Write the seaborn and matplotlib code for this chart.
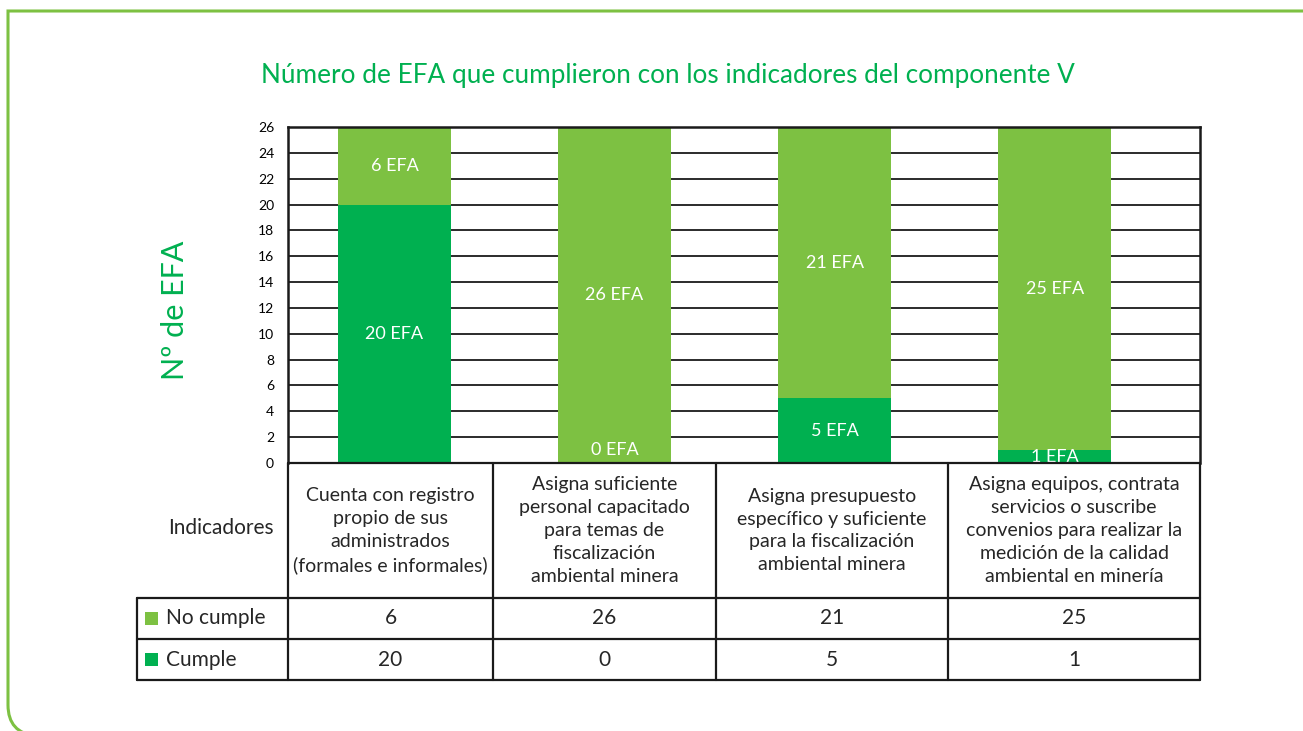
import matplotlib
matplotlib.use("Agg")
import matplotlib.pyplot as plt
import seaborn as sns
import pandas as pd
from matplotlib.lines import Line2D
from matplotlib.patches import PathPatch, Rectangle
from matplotlib.path import Path

# Data
categories = [
    "Cuenta con registro\npropio de sus\nadministrados\n(formales e informales)",
    "Asigna suficiente\npersonal capacitado\npara temas de\nfiscalización\nambiental minera",
    "Asigna presupuesto\nespecífico y suficiente\npara la fiscalización\nambiental minera",
    "Asigna equipos, contrata\nservicios o suscribe\nconvenios para realizar la\nmedición de la calidad\nambiental en minería",
]
no_cumple = [6, 26, 21, 25]
cumple = [20, 0, 5, 1]
series_names = ["No cumple", "Cumple"]
y_ticks = list(range(0, 27, 2))
title = "Número de EFA que cumplieron con los indicadores del componente V"
ylabel = "Nº de EFA"
row_header = "Indicadores"

LIGHT = "#7DC142"
DARK = "#00B050"
LINE = "#1a1a1a"

sns.set_theme(style="white")
plt.rcParams["font.family"] = ["Lato", "DejaVu Sans"]

W, H = 1303, 731
fig = plt.figure(figsize=(W / 100, H / 100), dpi=100)


def fx(px):
    return px / W


def fy(py):
    return 1 - py / H


# pixel layout of plot area and table
left, right, top, base = 288, 1200, 127, 463
col_edges = [288, 493, 716, 948, 1200]
row_edges = [463, 598, 639, 680]
table_left = 137

ax = fig.add_axes([fx(left), fy(base), fx(right) - fx(left), (base - top) / H])

df = pd.DataFrame({"Indicador": categories, "No cumple": no_cumple, "Cumple": cumple})
df["Total"] = df["No cumple"] + df["Cumple"]

sns.barplot(data=df, x="Indicador", y="Total", color=LIGHT, saturation=1,
            width=0.51, errorbar=None, ax=ax, zorder=2, linewidth=0)
sns.barplot(data=df, x="Indicador", y="Cumple", color=DARK, saturation=1,
            width=0.51, errorbar=None, ax=ax, zorder=3, linewidth=0)

# segment labels
for i, (c, n) in enumerate(zip(cumple, no_cumple)):
    if c == 0:
        ax.annotate(f"{c} EFA", xy=(i, 0), xytext=(0, 13), textcoords="offset pixels",
                    ha="center", va="center", color="white", fontsize=13, zorder=5)
    else:
        ax.text(i, c / 2, f"{c} EFA", ha="center", va="center", color="white",
                fontsize=13, zorder=5)
    ax.text(i, c + n / 2, f"{n} EFA", ha="center", va="center", color="white",
            fontsize=13, zorder=5)

ax.set_xlim(-0.484, 3.661)
ax.set_ylim(0, 26)
ax.set_yticks(y_ticks)
ax.tick_params(axis="y", labelsize=10, length=0, pad=10, colors="black")
ax.set_xticks([])
ax.set_xlabel("")
ax.set_ylabel("")
ax.yaxis.grid(True, color=LINE, linewidth=1.3)
ax.set_axisbelow(True)
for side in ["left", "top", "right"]:
    ax.spines[side].set_color(LINE)
    ax.spines[side].set_linewidth(1.8)
ax.spines["bottom"].set_visible(False)

# title and y label
fig.text(fx(668), fy(75), title, ha="center", va="center", color=DARK, fontsize=18.8)
fig.text(fx(175), fy(310), ylabel, ha="center", va="center", rotation=90,
         color=DARK, fontsize=22)


# table under the chart
def hline(y, x0, x1):
    fig.add_artist(Line2D([fx(x0), fx(x1)], [fy(y), fy(y)], color=LINE, lw=1.6))


def vline(x, y0, y1):
    fig.add_artist(Line2D([fx(x), fx(x)], [fy(y0), fy(y1)], color=LINE, lw=1.6))


hline(row_edges[0], left, right)
for y in row_edges[1:]:
    hline(y, table_left, right)
for x in col_edges:
    vline(x, row_edges[0], row_edges[-1])
vline(table_left, row_edges[1], row_edges[-1])

head_mid = (row_edges[0] + row_edges[1]) / 2
fig.text(fx(221), fy(head_mid - 2), row_header, ha="center", va="center", fontsize=15)
for j, lab in enumerate(categories):
    cx = (col_edges[j] + col_edges[j + 1]) / 2
    fig.text(fx(cx), fy(head_mid), lab, ha="center", va="center", fontsize=14,
             linespacing=1.42)

for r, (name, vals, colr) in enumerate(zip(series_names, [no_cumple, cumple], [LIGHT, DARK])):
    cy = (row_edges[r + 1] + row_edges[r + 2]) / 2
    fig.add_artist(Rectangle((fx(145), fy(cy + 6.5)), 13 / W, 13 / H,
                             facecolor=colr, edgecolor="none"))
    fig.text(fx(166), fy(cy), name, ha="left", va="center", fontsize=15)
    for j, v in enumerate(vals):
        cx = (col_edges[j] + col_edges[j + 1]) / 2
        fig.text(fx(cx), fy(cy), str(v), ha="center", va="center", fontsize=15)

# green frame (open to the right, rounded bottom-left corner)
verts = [(fx(1310), fy(11)), (fx(8), fy(11)), (fx(8), fy(705)),
         (fx(8), fy(733)), (fx(36), fy(736))]
codes = [Path.MOVETO, Path.LINETO, Path.LINETO, Path.CURVE3, Path.CURVE3]
fig.add_artist(PathPatch(Path(verts, codes), facecolor="none", edgecolor=LIGHT,
                         lw=2.2, transform=fig.transFigure))

fig.savefig("out.png", dpi=100)
